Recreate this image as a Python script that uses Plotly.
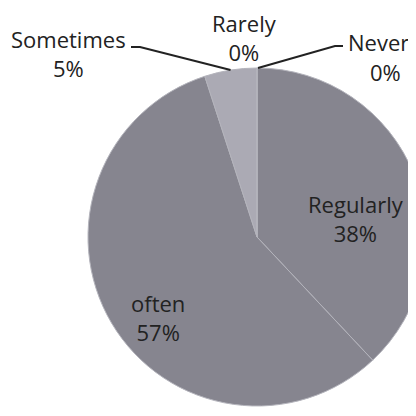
import math
import plotly.graph_objects as go

# ---- data ----
labels = ["Never", "Regularly", "often", "Sometimes", "Rarely"]
values = [0, 38, 57, 5, 0]
colors = ["#86858f", "#86858f", "#86858f", "#abaab4", "#abaab4"]

W, H = 430, 400
OFF = 8  # page body margin
# pie geometry (screen pixels)
CX, CY, R = 257, 237, 169

def px(x):
    return (x - OFF) / W

def py(y):
    return 1 - (y - OFF) / H

fig = go.Figure(go.Pie(
    labels=labels,
    values=values,
    sort=False,
    direction="clockwise",
    rotation=0,
    marker=dict(colors=colors, line=dict(color="#b4b4bc", width=1)),
    textinfo="none",
    hoverinfo="label+percent",
    showlegend=False,
    domain=dict(x=[px(CX - R), px(CX + R)], y=[py(CY + R), py(CY - R)]),
))

font = dict(family="Open Sans, sans-serif", size=22, color="#222222")

# label block centres (screen pixels)
label_pos = {
    "Sometimes": (69, 53),
    "Rarely": (244, 37),
    "Regularly": (356, 218),
    "often": (158, 317),
}
total = sum(values)
pct = {lab: round(100 * v / total) for lab, v in zip(labels, values)}
for lab in labels:
    if lab == "Never":
        fig.add_annotation(x=px(378), y=py(42), xref="paper", yref="paper",
                           text=lab, showarrow=False, font=font, borderpad=0,
                           xanchor="center", yanchor="middle")
        fig.add_annotation(x=px(385), y=py(72), xref="paper", yref="paper",
                           text=f"{pct[lab]}%", showarrow=False, font=font, borderpad=0,
                           xanchor="center", yanchor="middle")
        continue
    x, y = label_pos[lab]
    fig.add_annotation(
        x=px(x), y=py(y), xref="paper", yref="paper",
        text=f"{lab}<br>{pct[lab]}%", showarrow=False, font=font,
        align="center", xanchor="center", yanchor="middle", borderpad=0,
    )

# leader lines
line_style = dict(color="#222222", width=2)
mid_sometimes = 360 - 0.5 * 360 * values[3] / total
ax = CX + R * math.sin(math.radians(mid_sometimes))
ay = CY - R * math.cos(math.radians(mid_sometimes))
fig.add_shape(type="path", xref="paper", yref="paper",
              path=f"M {px(131)} {py(47)} L {px(140)} {py(47)} L {px(ax)} {py(ay)}",
              line=line_style)
fig.add_shape(type="path", xref="paper", yref="paper",
              path=f"M {px(CX + 1)} {py(CY - R)} L {px(335)} {py(46)} L {px(343)} {py(46)}",
              line=line_style)

fig.update_layout(
    width=W, height=H,
    margin=dict(l=0, r=0, t=0, b=0),
    paper_bgcolor="white", plot_bgcolor="white",
)

fig.write_html("out.html")
